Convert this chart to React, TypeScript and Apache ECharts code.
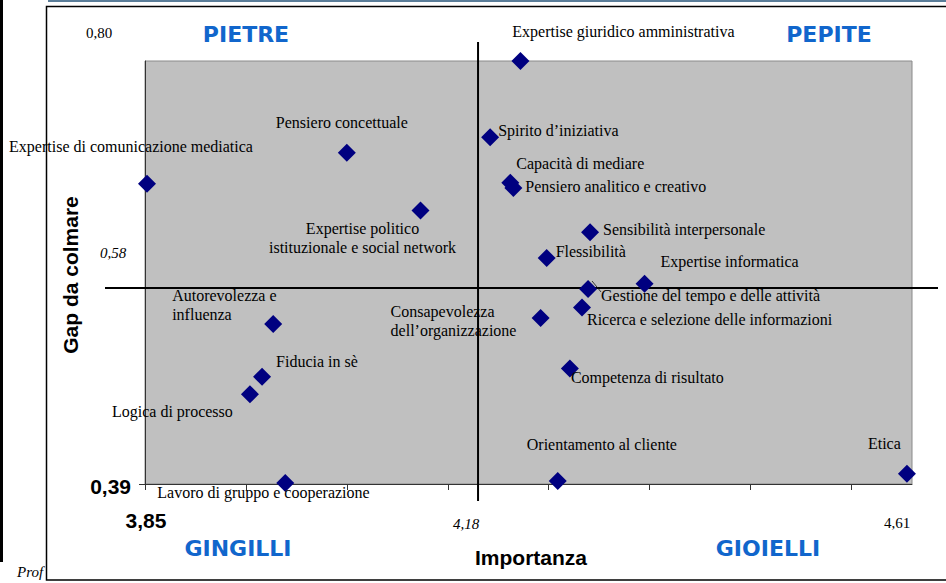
import React, { useEffect, useRef } from "react";
import * as echarts from "echarts";

// ---------- data ----------
const competenze = [
  "Expertise di comunicazione mediatica",
  "Pensiero concettuale",
  "Expertise giuridico amministrativa",
  "Spirito d’iniziativa",
  "Capacità di mediare",
  "Pensiero analitico e creativo",
  "Expertise politico\nistituzionale e social network",
  "Sensibilità interpersonale",
  "Flessibilità",
  "Gestione del tempo e delle attività",
  "Expertise informatica",
  "Ricerca e selezione delle informazioni",
  "Consapevolezza\ndell’organizzazione",
  "Competenza di risultato",
  "Autorevolezza e\ninfluenza",
  "Fiducia in sè",
  "Logica di processo",
  "Lavoro di gruppo e cooperazione",
  "Orientamento al cliente",
  "Etica",
];
const importanza = [
  3.852, 4.05, 4.222, 4.192, 4.212, 4.215, 4.123, 4.291, 4.248, 4.289,
  4.345, 4.283, 4.242, 4.271, 3.977, 3.966, 3.954, 3.989, 4.259, 4.605,
];
const gapDaColmare = [
  0.681, 0.711, 0.8, 0.726, 0.682, 0.677, 0.655, 0.634, 0.609, 0.579,
  0.584, 0.561, 0.551, 0.502, 0.545, 0.494, 0.477, 0.391, 0.393, 0.4,
];

const xMin = 3.85;
const xMax = 4.61;
const yMin = 0.39;
const yMax = 0.8;
const xMean = 4.18;
const yMean = 0.58;
const xTickValues = [3.85, 3.95, 4.05, 4.15, 4.25, 4.35, 4.45, 4.55];
const yTickValues = [0.39];
const xLabelValues = [3.85, 4.18, 4.61];
const xLabelTexts = ["3,85", "4,18", "4,61"];
const yLabelValues = [0.8, 0.58, 0.39];
const yLabelTexts = ["0,80", "0,58", "0,39"];
const quadranti = ["PIETRE", "PEPITE", "GINGILLI", "GIOIELLI"];
const xTitle = "Importanza";
const yTitle = "Gap da colmare";

// ---------- label layout (align, dx, dy relative to the marker) ----------
const labelLayout: [string, number, number][] = [
  ["center", -16, -37],
  ["center", -5, -30],
  ["center", 103, -30],
  ["left", 8, -7],
  ["left", 6, -19],
  ["left", 12, -1],
  ["center", -58, 27],
  ["left", 13, -3],
  ["left", 9, -7],
  ["left", 13, 6],
  ["left", 16, -22],
  ["left", 5, 12],
  ["left", -150, 3],
  ["left", 1, 9],
  ["left", -101, -19],
  ["left", 14, -15],
  ["left", -138, 17],
  ["left", -128, 10],
  ["left", -31, -36],
  ["left", -39, -30],
];

const SERIF = "'Liberation Serif', 'Times New Roman', serif";
const SANS = "'Liberation Sans', Arial, sans-serif";
const VERD = "'DejaVu Sans', Verdana, sans-serif";
const BLUE = "#1166cc";

export default function App() {
  const ref = useRef<HTMLDivElement>(null);

  useEffect(() => {
    if (!ref.current) return;
    const chart = echarts.init(ref.current, undefined, { renderer: "svg" });

    const gridLeft = 145;
    const gridTop = 61;
    const gridWidth = 767;
    const gridHeight = 423;

    chart.setOption({
      animation: false,
      grid: {
        left: gridLeft,
        top: gridTop,
        width: gridWidth,
        height: gridHeight,
        show: true,
        backgroundColor: "#c0c0c0",
        borderColor: "#8a8a8a",
        borderWidth: 1,
      },
      xAxis: {
        type: "value",
        min: xMin,
        max: xMax,
        splitLine: { show: false },
        axisLine: { show: true, onZero: false, lineStyle: { color: "#333", width: 1 } },
        axisTick: { show: true, customValues: xTickValues, length: 6, lineStyle: { color: "#333" } },
        axisLabel: { show: false },
      },
      yAxis: {
        type: "value",
        min: yMin,
        max: yMax,
        splitLine: { show: false },
        axisLine: { show: true, onZero: false, lineStyle: { color: "#333", width: 1 } },
        axisTick: { show: true, customValues: yTickValues, length: 6, lineStyle: { color: "#333" } },
        axisLabel: { show: false },
      },
      series: [
        {
          type: "scatter",
          symbol: "diamond",
          symbolSize: 18,
          clip: false,
          z: 3,
          itemStyle: { color: "#000080", opacity: 1 },
          label: {
            show: true,
            position: "inside",
            formatter: "{b}",
            color: "#000",
            fontFamily: SERIF,
            fontSize: 16,
            lineHeight: 19,
            verticalAlign: "middle",
          },
          data: competenze.map((n, i) => ({
            name: n,
            value: [importanza[i], gapDaColmare[i]],
            label: {
              align: labelLayout[i][0],
              offset: [labelLayout[i][1], labelLayout[i][2]],
            },
          })),
        },
      ],
    });

    const px = (x: number, y: number) =>
      chart.convertToPixel({ gridIndex: 0 }, [x, y]) as number[];

    const m = px(xMean, yMean);
    const gl = px(xMin, yMin);
    const tr = px(xMax, yMax);

    const txt = (
      text: string,
      x: number,
      y: number,
      font: string,
      fill: string,
      align = "center"
    ) => ({
      type: "text",
      z: 5,
      style: { text, x, y, font, fill, align, verticalAlign: "middle" },
    });

    const graphic: any[] = [
      // frame
      { type: "rect", z: -10, shape: { x: 0, y: 0, width: 3, height: 562 }, style: { fill: "#000" } },
      { type: "rect", z: -10, shape: { x: 48, y: 0, width: 898, height: 2 }, style: { fill: "#5a7d99" } },
      {
        type: "rect",
        z: -9,
        shape: { x: 46.5, y: 6.5, width: 920, height: 573.5 },
        style: { fill: "#fff", stroke: "#000", lineWidth: 1.5 },
      },
      // mean lines
      {
        type: "line",
        z: 1,
        shape: { x1: m[0], y1: tr[1] - 19, x2: m[0], y2: gl[1] + 17 },
        style: { stroke: "#000", lineWidth: 2 },
      },
      {
        type: "line",
        z: 1,
        shape: { x1: gl[0] - 40, y1: m[1], x2: tr[0] + 26, y2: m[1] },
        style: { stroke: "#000", lineWidth: 2 },
      },
      // leader line for "Gestione del tempo"
      (() => {
        const p = px(importanza[9], gapDaColmare[9]);
        return {
          type: "line",
          z: 4,
          shape: { x1: p[0] + 4, y1: p[1] - 8, x2: p[0] + 13, y2: p[1] + 3 },
          style: { stroke: "#111", lineWidth: 0.8 },
        };
      })(),
      // axis titles
      {
        type: "text",
        z: 5,
        x: 70,
        y: 275,
        rotation: Math.PI / 2,
        style: {
          text: yTitle,
          font: `bold 21px ${SANS}`,
          fill: "#000",
          align: "center",
          verticalAlign: "middle",
        },
      },
      txt(xTitle, 531, 557, `bold 21px ${SANS}`, "#000"),
      // quadrant names
      txt(quadranti[0], 246, 34, `bold 22px ${VERD}`, BLUE),
      txt(quadranti[1], 829, 34, `bold 22px ${VERD}`, BLUE),
      txt(quadranti[2], 238, 548, `bold 22px ${VERD}`, BLUE),
      txt(quadranti[3], 768, 548, `bold 22px ${VERD}`, BLUE),
      // footer
      txt("Prof", 17, 572, `italic 15px ${SERIF}`, "#000", "left"),
    ];

    // x tick labels
    const xp = xLabelValues.map((v) => px(v, yMin)[0]);
    graphic.push(txt(xLabelTexts[0], xp[0] + 1, gl[1] + 36, `bold 21px ${SANS}`, "#000"));
    graphic.push(txt(xLabelTexts[1], xp[1] - 12, gl[1] + 40, `italic 15px ${SERIF}`, "#000"));
    graphic.push(txt(xLabelTexts[2], xp[2] - 15, gl[1] + 39, `15px ${SERIF}`, "#000"));
    // y tick labels
    const yp = yLabelValues.map((v) => px(xMin, v)[1]);
    graphic.push(txt(yLabelTexts[0], gl[0] - 46, yp[0] - 28, `15px ${SERIF}`, "#000"));
    graphic.push(txt(yLabelTexts[1], gl[0] - 32, yp[1] - 35, `italic 15px ${SERIF}`, "#000"));
    graphic.push(txt(yLabelTexts[2], gl[0] - 14, yp[2] + 2, `bold 21px ${SANS}`, "#000", "right"));

    chart.setOption({ graphic });

    return () => chart.dispose();
  }, []);

  return (
    <div
      ref={ref}
      style={{ position: "fixed", left: 0, top: 0, width: 946, height: 583, background: "#fff" }}
    />
  );
}
